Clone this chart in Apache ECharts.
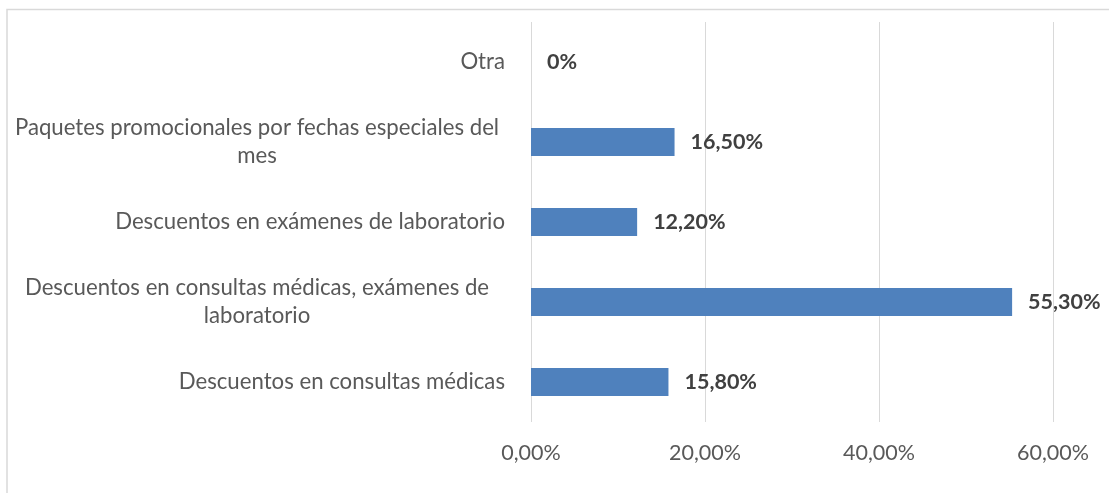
<!DOCTYPE html>
<html>
<head>
<meta charset="utf-8">
<script src="https://cdn.jsdelivr.net/npm/echarts@6/dist/echarts.min.js"></script>
<style>
html,body{margin:0;padding:0;background:#fff;}
#c{width:1109px;height:493px;}
</style>
</head>
<body>
<div id="c"></div>
<script>
const categories = [
  "Descuentos en consultas médicas",
  "Descuentos en consultas médicas, exámenes de\nlaboratorio",
  "Descuentos en exámenes de laboratorio",
  "Paquetes promocionales por fechas especiales del\nmes",
  "Otra"
];
const values = [15.8, 55.3, 12.2, 16.5, 0];
const xTicks = [0, 20, 40, 60];

const FONT = 'Lato, "Open Sans", sans-serif';
const fmtPct = v => v.toFixed(2).replace('.', ',') + '%';

const chart = echarts.init(document.getElementById('c'), null, {renderer: 'canvas'});
chart.setOption({
  animation: false,
  backgroundColor: '#fff',
  graphic: [{
    type: 'rect',
    shape: {x: 7, y: 9.5, width: 1200, height: 1000},
    style: {fill: 'none', stroke: '#d9d9d9', lineWidth: 1.5},
    silent: true
  }],
  grid: {left: 531, right: 56, top: 22, bottom: 71, containLabel: false},
  xAxis: {
    type: 'value',
    min: xTicks[0],
    max: xTicks[xTicks.length - 1],
    interval: xTicks[1] - xTicks[0],
    axisLine: {show: false},
    axisTick: {show: false},
    splitLine: {show: true, lineStyle: {color: '#d9d9d9', width: 1}},
    axisLabel: {
      formatter: v => fmtPct(v),
      color: '#595959',
      fontFamily: FONT,
      fontSize: 21.5,
      margin: 20
    }
  },
  yAxis: {
    type: 'category',
    data: categories,
    axisLine: {show: false},
    axisTick: {show: false},
    splitLine: {show: false},
    axisLabel: {
      color: '#595959',
      fontFamily: FONT,
      fontSize: 22.2,
      margin: 26,
      lineHeight: 28,
      formatter: function (v) {
        if (v.indexOf('\n') >= 0) {
          return v.split('\n').map(s => '{c|' + s + '}').join('\n');
        }
        return v;
      },
      rich: {
        c: {width: 496, align: 'center', color: '#595959', fontFamily: FONT, fontSize: 22.2, lineHeight: 28}
      }
    }
  },
  series: [{
    type: 'bar',
    data: values,
    barWidth: 28,
    itemStyle: {color: '#4f81bd'},
    label: {
      show: true,
      position: 'right',
      distance: 16,
      formatter: p => p.value === 0 ? '0%' : fmtPct(p.value),
      color: '#404040',
      fontWeight: 'bold',
      fontFamily: FONT,
      fontSize: 21.5
    }
  }]
});
</script>
</body>
</html>
